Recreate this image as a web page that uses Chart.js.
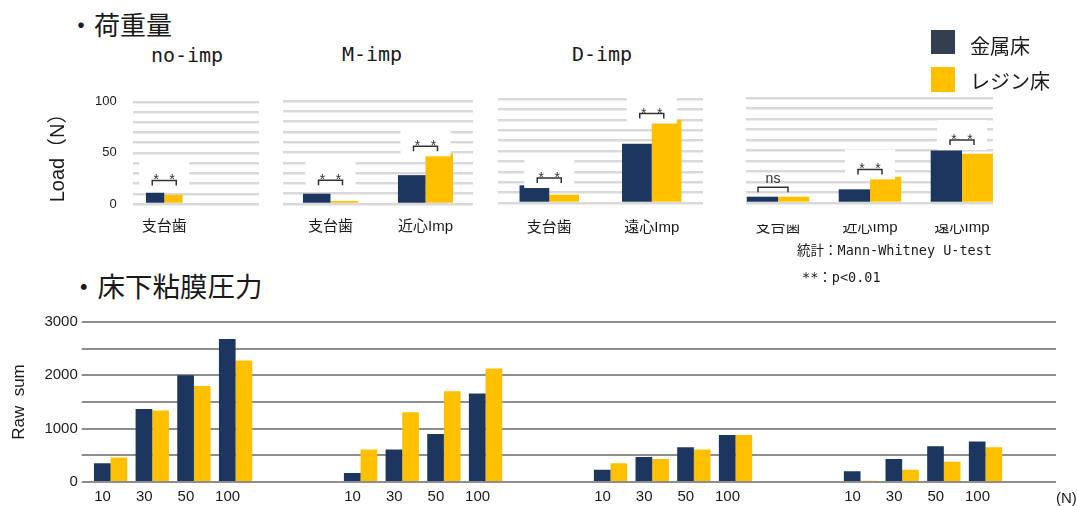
<!DOCTYPE html>
<html>
<head>
<meta charset="utf-8">
<script src="https://cdn.jsdelivr.net/npm/chart.js@4.4.1/dist/chart.umd.min.js"></script>
<style>
  body { margin: 0; width: 1077px; height: 506px; background: #fff; position: relative; overflow: hidden;
         font-family: "Liberation Sans", "Noto Sans CJK JP", sans-serif; color: #1a1a1a; }
  .t { position: absolute; white-space: nowrap; line-height: 1; }
  .c { transform: translate(-50%, -50%); }
  .m { transform: translateY(-50%); }
  .jp { font-family: "Noto Sans CJK JP", sans-serif; }
  .mono { font-family: "DejaVu Sans Mono", "Noto Sans CJK JP", monospace; }
  canvas { position: absolute; }
  .sq { position: absolute; width: 24px; height: 24px; }
</style>
</head>
<body>
<div class="t m jp" style="left:68px;top:24px;font-size:26px">・荷重量</div>
<div class="t c mono" style="left:187px;top:55px;font-size:20px">no-imp</div>
<div class="t c mono" style="left:372px;top:54px;font-size:20px">M-imp</div>
<div class="t c mono" style="left:602px;top:54px;font-size:20px">D-imp</div>

<canvas id="load1" width="240" height="172" style="left:30px;top:78px"></canvas>
<canvas id="load2" width="196" height="165" style="left:280px;top:85px"></canvas>
<canvas id="load3" width="211" height="168" style="left:495px;top:85px"></canvas>
<div style="position:absolute;left:746px;top:85px;width:247px;height:170px;overflow:hidden">
  <canvas id="load4" width="282" height="168" style="left:-17px;top:0px"></canvas>
</div>
<div style="position:absolute;left:740px;top:206px;width:260px;height:18px;background:#fff"></div>

<div class="sq" style="left:931px;top:30px;background:#333f50"></div>
<div class="sq" style="left:931px;top:67px;height:25px;background:#ffc000"></div>
<div class="t m jp" style="left:970px;top:46px;font-size:20px">金属床</div>
<div class="t m jp" style="left:970px;top:81px;font-size:20px">レジン床</div>

<div class="t m mono" style="left:797px;top:251px;font-size:13.5px">統計：Mann-Whitney U-test</div>
<div class="t m mono" style="left:802px;top:278px;font-size:13.5px">**：p&lt;0.01</div>

<div class="t m jp" style="left:70px;top:286px;font-size:27.5px">・床下粘膜圧力</div>
<canvas id="raw" width="1077" height="212" style="left:0px;top:300px"></canvas>
<div class="t m" style="left:1056px;top:497px;font-size:15px">(N)</div>

<script>
const metalColor = "#1c3660";
const resinColor = "#ffc000";
const txt = "#1a1a1a";
const fam = '"Liberation Sans", "Noto Sans CJK JP", sans-serif';

// 荷重量 (N)
const noImpCats = ["支台歯", ""];
const noImpMetal = [11, null];
const noImpResin = [9, null];
const mImpCats = ["支台歯", "近心Imp"];
const mImpMetal = [10, 28];
const mImpResin = [3, 49];
const dImpCats = ["支台歯", "遠心Imp"];
const dImpMetal = [17, 57];
const dImpResin = [8, 80];
const mdImpCats = ["支台歯", "近心Imp", "遠心Imp"];
const mdImpMetal = [6, 13, 50];
const mdImpResin = [6, 25, 47];
const loadTicks = [0, 50, 100];

// significance brackets: category index, bracket height (N), label
const noImpSig = [{ i: 0, at: 23, text: "**", box: true }];
const mImpSig = [{ i: 0, at: 23, text: "**", box: true }, { i: 1, at: 56, text: "**", box: true }];
const dImpSig = [{ i: 0, at: 24, text: "**", box: true }, { i: 1, at: 86, text: "**", box: true }];
const mdImpSig = [{ i: 0, at: 15, text: "ns", box: false, dx: -5 }, { i: 1, at: 32, text: "**", box: true }, { i: 2, at: 60, text: "**", box: true }];

// 床下粘膜圧力 (Raw sum)
const loadSteps = ["10", "30", "50", "100"];
const rawNoImpMetal = [350, 1370, 2000, 2680];
const rawNoImpResin = [460, 1340, 1800, 2280];
const rawMImpMetal = [170, 610, 900, 1660];
const rawMImpResin = [610, 1310, 1700, 2130];
const rawDImpMetal = [230, 470, 650, 880];
const rawDImpResin = [350, 430, 610, 880];
const rawMdImpMetal = [200, 430, 670, 760];
const rawMdImpResin = [25, 230, 380, 650];
const rawTicks = [0, 1000, 2000, 3000];

function sigPlugin(marks) {
  return {
    id: "sig",
    afterDatasetsDraw(chart) {
      const ctx = chart.ctx;
      const xs = chart.scales.x, ys = chart.scales.y;
      marks.forEach(m => {
        const cx = xs.getPixelForValue(m.i) + (m.dx || 0);
        const by = ys.getPixelForValue(m.at);
        ctx.save();
        if (m.box) {
          ctx.fillStyle = "#fff";
          ctx.fillRect(cx - 25, by - 20, 50, 30);
        }
        const hw = m.text == "ns" ? 15 : 12;
        ctx.strokeStyle = "#333";
        ctx.lineWidth = 1.5;
        ctx.beginPath();
        ctx.moveTo(cx - hw, by + 5);
        ctx.lineTo(cx - hw, by);
        ctx.lineTo(cx + hw, by);
        ctx.lineTo(cx + hw, by + 5);
        ctx.stroke();
        ctx.fillStyle = "#333";
        ctx.textAlign = "center";
        ctx.font = "14px " + fam;
        if (m.text == "**") {
          ctx.fillText("*", cx - 8, by + 4);
          ctx.fillText("*", cx + 8, by + 4);
        } else {
          ctx.fillText(m.text, cx, by - 4);
        }
        ctx.restore();
      });
    }
  };
}

function loadChart(id, cats, metal, resin, sig, cat, pad, labelPad, withAxis) {
  return new Chart(document.getElementById(id), {
    type: "bar",
    data: {
      labels: cats,
      datasets: [
        { label: "金属床", data: metal, backgroundColor: metalColor, categoryPercentage: cat, barPercentage: 1 },
        { label: "レジン床", data: resin, backgroundColor: resinColor, categoryPercentage: cat, barPercentage: 1 }
      ]
    },
    options: {
      responsive: false,
      animation: false,
      layout: { padding: pad },
      plugins: { legend: { display: false }, tooltip: { enabled: false } },
      scales: {
        x: {
          grid: { display: false, drawTicks: false },
          border: { display: false },
          ticks: { padding: labelPad, color: txt, font: { size: 15, family: fam } }
        },
        y: {
          min: 0,
          max: 100,
          border: { display: false },
          grid: { color: "#d9d9d9", lineWidth: 2.5, drawTicks: false },
          ticks: {
            display: withAxis,
            autoSkip: false,
            stepSize: 10,
            padding: 16,
            color: txt,
            font: { size: 13, family: fam },
            callback: v => (loadTicks.includes(v) ? v : "")
          },
          title: {
            display: withAxis,
            text: "Load（N）",
            color: txt,
            font: { size: 20, family: fam },
            padding: { top: 4, bottom: 9 }
          }
        }
      }
    },
    plugins: [sigPlugin(sig)]
  });
}

loadChart("load1", noImpCats, noImpMetal, noImpResin, noImpSig, 0.58, { left: 12, right: 11, top: 0, bottom: 0 }, 14, true);
loadChart("load2", mImpCats, mImpMetal, mImpResin, mImpSig, 0.58, { left: 3, right: 3, top: 16, bottom: 0 }, 14, false);
loadChart("load3", dImpCats, dImpMetal, dImpResin, dImpSig, 0.58, { left: 3, right: 3, top: 14, bottom: 0 }, 16, false);
loadChart("load4", mdImpCats, mdImpMetal, mdImpResin, mdImpSig, 0.68, { left: 3, right: 3, top: 13, bottom: 0 }, 16, false);

// bottom chart: four groups of load steps with empty slots between
const rawLabels = [...loadSteps, "", "", ...loadSteps, "", "", ...loadSteps, "", "", ...loadSteps, ""];
const rawMetal = [...rawNoImpMetal, null, null, ...rawMImpMetal, null, null, ...rawDImpMetal, null, null, ...rawMdImpMetal, null];
const rawResin = [...rawNoImpResin, null, null, ...rawMImpResin, null, null, ...rawDImpResin, null, null, ...rawMdImpResin, null];

new Chart(document.getElementById("raw"), {
  type: "bar",
  data: {
    labels: rawLabels,
    datasets: [
      { label: "金属床", data: rawMetal, backgroundColor: metalColor, categoryPercentage: 0.8, barPercentage: 1 },
      { label: "レジン床", data: rawResin, backgroundColor: resinColor, categoryPercentage: 0.8, barPercentage: 1 }
    ]
  },
  options: {
    responsive: false,
    animation: false,
    layout: { padding: { left: 1, right: 21, top: 22, bottom: 0 } },
    plugins: { legend: { display: false }, tooltip: { enabled: false } },
    scales: {
      x: {
        grid: { display: false, drawTicks: false },
        border: { display: false },
        ticks: { autoSkip: false, maxRotation: 0, padding: 6, labelOffset: -8, color: txt, font: { size: 15, family: fam } }
      },
      y: {
        min: 0,
        max: 3000,
        border: { display: false },
        grid: { color: "#8e8e8e", lineWidth: 2, tickLength: 8 },
        ticks: {
          stepSize: 500,
          autoSkip: false,
          padding: 4,
          color: txt,
          font: { size: 15, family: fam },
          callback: v => (rawTicks.includes(v) ? v : "")
        },
        title: { display: true, text: "Raw  sum", color: txt, font: { size: 17, family: fam }, padding: { top: 8, bottom: 11 } }
      },
      y2: {
        position: "right",
        min: 0,
        max: 3000,
        border: { display: false },
        grid: { color: "#8e8e8e", lineWidth: 2, tickLength: 8, drawOnChartArea: false },
        ticks: { display: false, stepSize: 500 }
      }
    }
  }
});
</script>
</body>
</html>
